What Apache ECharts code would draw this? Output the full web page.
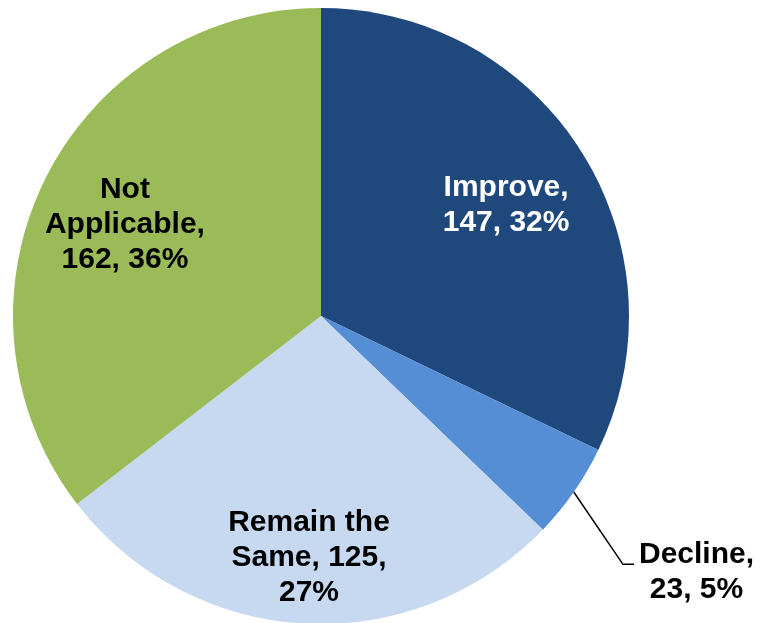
<!DOCTYPE html>
<html><head><meta charset="utf-8">
<script src="https://cdn.jsdelivr.net/npm/echarts@6/dist/echarts.min.js"></script>
<style>html,body{margin:0;padding:0;background:#fff}#c{width:762px;height:623px}</style>
</head><body><div id="c"></div>
<script>
const categories = ['Improve', 'Decline', 'Remain the Same', 'Not Applicable'];
const values = [147, 23, 125, 162];
const colors = ['#1F497D', '#558ED5', '#C6D9F1', '#9BBB59'];

function labelText(p) {
  const v = p.value, d = p.percent;
  switch (p.name) {
    case 'Improve': return 'Improve,\n' + v + ', ' + d + '%';
    case 'Decline': return '{c|Decline,}\n{c|' + v + ', ' + d + '%}';
    case 'Remain the Same': return 'Remain the\nSame, ' + v + ',\n' + d + '%';
    default: return 'Not\nApplicable,\n' + v + ', ' + d + '%';
  }
}
const font = { fontFamily: 'Liberation Sans, Arial, sans-serif', fontWeight: 'bold', fontSize: 30, lineHeight: 35 };
const chart = echarts.init(document.getElementById('c'), null, { renderer: 'canvas' });
const center = [321, 316];
chart.setOption({
  animation: false,
  series: [
    {
      type: 'pie', center: center, radius: 308, startAngle: 90, clockwise: true,
      percentPrecision: 0,
      data: categories.map((c, i) => ({
        name: c, value: values[i],
        itemStyle: { color: colors[i] },
        label: { show: c === 'Decline' },
        labelLine: { show: c === 'Decline' }
      })),
      label: Object.assign({
        position: 'outside', color: '#000', formatter: labelText, overflow: 'none',
        bleedMargin: 0,
        rich: { c: Object.assign({ align: 'center', color: '#000' }, font) }
      }, font),
      labelLine: { length: 60, length2: 12, smooth: false, lineStyle: { color: '#000', width: 1.5 } },
      labelLayout: function (p) {
        if (p.dataIndex !== 1) return {};
        const dx = -1, dy = 46;
        const r = p.labelRect;
        const p0 = p.labelLinePoints[0];
        const p2 = [r.x + dx - 5, r.y + dy + r.height / 2 - 8];
        const p1 = [p2[0] - 11, p2[1]];
        return { dx: dx, dy: dy, labelLinePoints: [p0, p1, p2] };
      }
    },
    {
      type: 'pie', center: center, radius: [123, 308], startAngle: 90, clockwise: true,
      percentPrecision: 0, silent: true,
      itemStyle: { color: 'rgba(0,0,0,0)' },
      data: categories.map((c, i) => ({
        name: c, value: values[i],
        label: { show: c !== 'Decline', color: c === 'Improve' ? '#fff' : '#000' }
      })),
      label: Object.assign({ position: 'inside', align: 'center', formatter: labelText }, font),
      labelLine: { show: false },
      labelLayout: function (p) {
        if (p.dataIndex === 0) return { dy: 5 };
        if (p.dataIndex === 2) return { dy: 24 };
        if (p.dataIndex === 3) return { dy: 5 };
        return {};
      }
    }
  ]
});
</script></body></html>
